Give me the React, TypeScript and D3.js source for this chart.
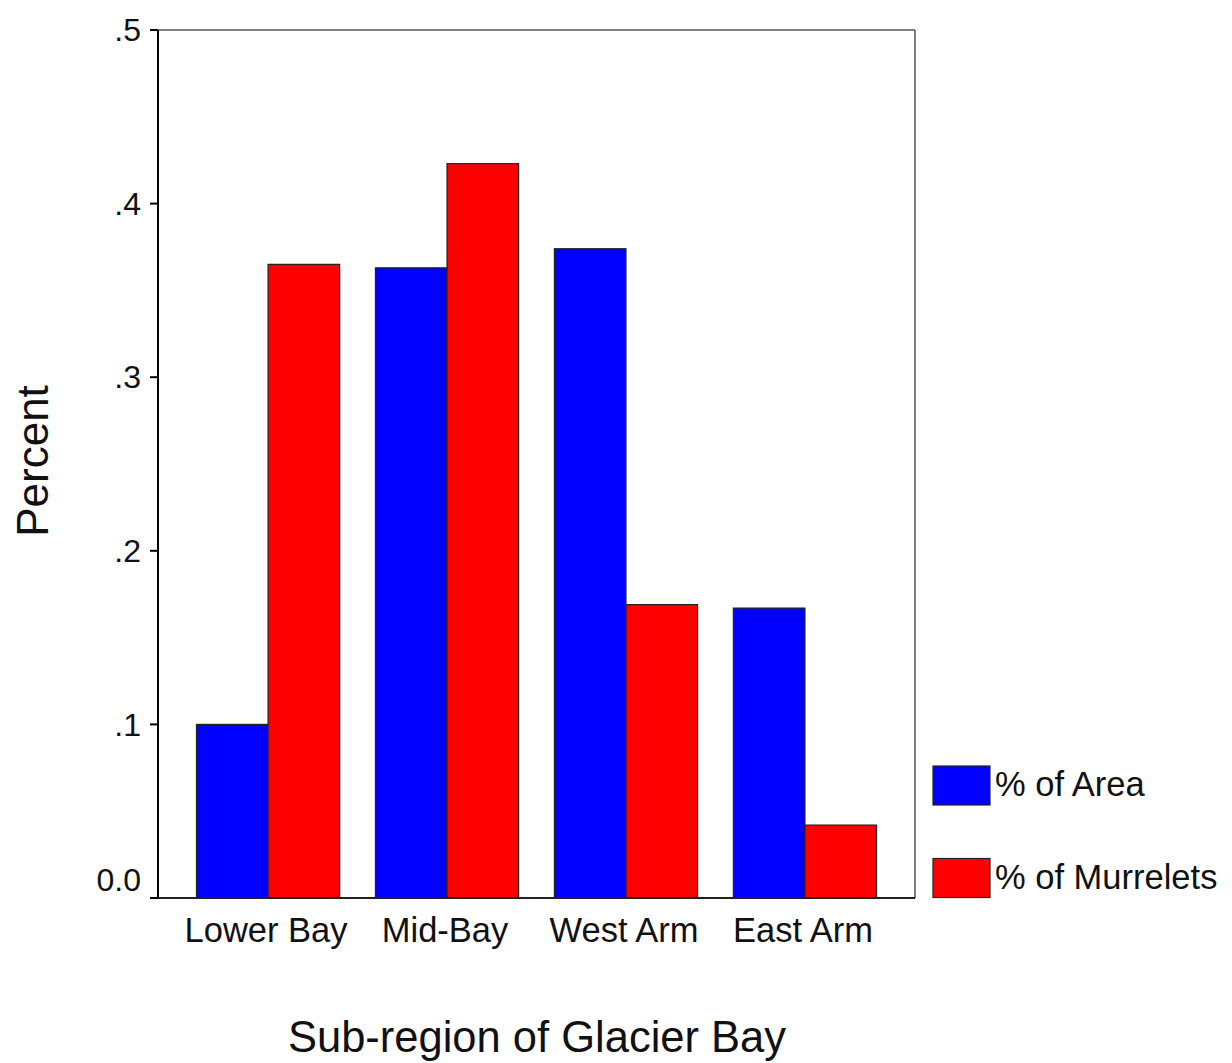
import React from "react";
import * as d3 from "d3";

const categories = ["Lower Bay", "Mid-Bay", "West Arm", "East Arm"];
const seriesNames = ["% of Area", "% of Murrelets"];
const areaValues = [0.1, 0.363, 0.374, 0.167];
const murreletValues = [0.365, 0.423, 0.169, 0.042];
const yTicks = [0, 0.1, 0.2, 0.3, 0.4, 0.5];
const yTickLabels = ["0.0", ".1", ".2", ".3", ".4", ".5"];
const colors = ["#0000ff", "#ff0000"];

const W = 1232;
const H = 1063;
const left = 158;
const right = 915;
const top = 30;
const bottom = 898;
const FONT = "Liberation Sans, Arial, sans-serif";

export default function App() {
  const y = d3.scaleLinear().domain([0, 0.5]).range([bottom, top]);
  const x = d3
    .scaleBand<string>()
    .domain(categories)
    .range([left, right])
    .paddingInner(0.2)
    .paddingOuter(0.215);
  const xs = d3.scaleBand<string>().domain(seriesNames).range([0, x.bandwidth()]);
  const series = [areaValues, murreletValues];

  return (
    <svg
      width={W}
      height={H}
      style={{ position: "absolute", left: 0, top: 0, background: "#fff" }}
      fontFamily={FONT}
    >
      <rect x={0} y={0} width={W} height={H} fill="#fff" />
      {/* frame */}
      <line x1={left} x2={right} y1={top} y2={top} stroke="#555" strokeWidth={1.5} />
      <line x1={right} x2={right} y1={top} y2={bottom} stroke="#555" strokeWidth={1.5} />
      {/* bars */}
      {categories.map((c, i) =>
        seriesNames.map((s, j) => {
          const v = series[j][i];
          return (
            <rect
              key={c + s}
              x={(x(c) as number) + (xs(s) as number)}
              y={y(v)}
              width={xs.bandwidth()}
              height={bottom - y(v)}
              fill={colors[j]}
              stroke="#222"
              strokeWidth={1.2}
            />
          );
        })
      )}
      {/* axes */}
      <line x1={left} x2={left} y1={top} y2={bottom} stroke="#000" strokeWidth={2} />
      <line x1={150} x2={right} y1={bottom} y2={bottom} stroke="#222" strokeWidth={2} />
      {yTicks.map((t, i) => (
        <g key={t}>
          <line x1={150} x2={left} y1={y(t)} y2={y(t)} stroke="#000" strokeWidth={2} />
          <text
            x={141}
            y={y(t) - (t === 0 ? 18 : 0)}
            dy="0.35em"
            textAnchor="end"
            fontSize={32}
            fill="#111"
          >
            {yTickLabels[i]}
          </text>
        </g>
      ))}
      {categories.map((c) => (
        <text
          key={c}
          x={(x(c) as number) + x.bandwidth() / 2 - 2}
          y={942}
          textAnchor="middle"
          fontSize={34.5}
          fill="#111"
        >
          {c}
        </text>
      ))}
      <text x={537} y={1052} textAnchor="middle" fontSize={43.5} fill="#111">
        Sub-region of Glacier Bay
      </text>
      <text
        transform={`translate(48, 461) rotate(-90)`}
        textAnchor="middle"
        fontSize={44}
        fill="#111"
      >
        Percent
      </text>
      {/* legend */}
      {seriesNames.map((s, j) => (
        <g key={s} transform={`translate(933, ${766 + j * 92.5})`}>
          <rect x={0} y={0} width={57} height={39} fill={colors[j]} stroke="#222" strokeWidth={1.2} />
          <text x={62} y={30} fontSize={34.5} fill="#111">
            {s}
          </text>
        </g>
      ))}
    </svg>
  );
}
